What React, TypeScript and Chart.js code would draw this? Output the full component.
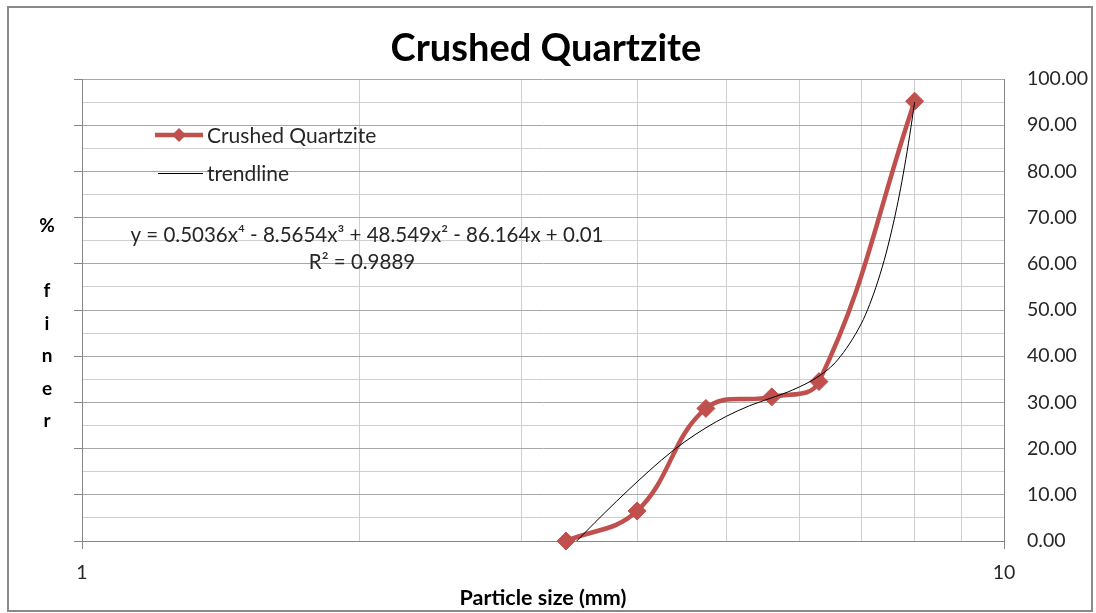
import React, { useEffect, useRef } from 'react';
import { Chart, registerables } from 'chart.js';

Chart.register(...registerables);

// ---- data ----
const chartTitle = 'Crushed Quartzite';
const xAxisTitle = 'Particle size (mm)';
const yAxisTitleLetters = ['%', '', 'f', 'i', 'n', 'e', 'r'];
const seriesName = 'Crushed Quartzite';
const trendName = 'trendline';
const equationText = 'y = 0.5036x⁴ - 8.5654x³ + 48.549x² - 86.164x + 0.01';
const rSquaredText = 'R² = 0.9889';

const particleSizes = [3.35, 4.0, 4.75, 5.6, 6.3, 8.0];
const percentFiner = [0, 6.5, 28.7, 31.2, 34.5, 95.2];

const trendSizes = [3.44, 3.6, 3.8, 4.0, 4.25, 4.5, 4.75, 5.0, 5.3, 5.6, 5.9, 6.3, 6.6, 7.0, 7.15, 7.3, 7.45, 7.6, 7.7, 7.8, 7.9, 8.0];
const trendFiner = [0, 4.0, 8.6, 12.8, 17.5, 21.4, 24.5, 27.0, 29.3, 31.0, 32.7, 35.7, 39.2, 47.0, 51.2, 56.3, 62.3, 69.5, 74.9, 81.0, 87.7, 95.0];

const xTickValues = [1, 2, 3, 4, 5, 6, 7, 8, 9, 10];
const xTickLabels = ['1', '', '', '', '', '', '', '', '', '10'];
const yMin = 0;
const yMax = 100;
const yMinorStep = 5;
const yMajorStep = 10;

const FONT = 'Lato, "Open Sans", sans-serif';
const TEXT = '#262626';
const AXIS = '#868686';
const GRID_MAJOR = '#a8a8a8';
const GRID_MINOR = '#cfcfcf';
const RED = '#C0504D';

const W = 1082;
const H = 602;

const overlayPlugin = {
  id: 'overlayText',
  afterDraw(chart: any) {
    const ctx = chart.ctx;
    ctx.save();
    // title
    ctx.fillStyle = '#000';
    ctx.font = `bold 38px ${FONT}`;
    ctx.textAlign = 'center';
    ctx.textBaseline = 'middle';
    ctx.fillText(chartTitle, 537, 41);

    // y axis title (stacked letters)
    ctx.font = `bold 19px ${FONT}`;
    ctx.textBaseline = 'alphabetic';
    yAxisTitleLetters.forEach((ch, i) => {
      if (ch) ctx.fillText(ch, 38, 224 + i * 32.5);
    });

    // x axis title
    ctx.textBaseline = 'middle';
    ctx.font = `bold 21.5px ${FONT}`;
    ctx.fillText(xAxisTitle, 534, 590);

    // legend
    ctx.font = `21px ${FONT}`;
    ctx.textAlign = 'left';
    ctx.fillStyle = TEXT;
    const ds0 = chart.data.datasets[0];
    const ds1 = chart.data.datasets[1];
    ctx.strokeStyle = ds0.borderColor;
    ctx.lineWidth = ds0.borderWidth;
    ctx.beginPath();
    ctx.moveTo(146, 127);
    ctx.lineTo(194, 127);
    ctx.stroke();
    ctx.fillStyle = ds0.pointBackgroundColor;
    ctx.beginPath();
    ctx.moveTo(170, 120);
    ctx.lineTo(177, 127);
    ctx.lineTo(170, 134);
    ctx.lineTo(163, 127);
    ctx.closePath();
    ctx.fill();
    ctx.fillStyle = TEXT;
    ctx.fillText(ds0.label, 198, 128);

    ctx.strokeStyle = ds1.borderColor;
    ctx.lineWidth = 1;
    ctx.beginPath();
    ctx.moveTo(149, 165.5);
    ctx.lineTo(194, 165.5);
    ctx.stroke();
    ctx.fillText(ds1.label, 198, 166);

    // trendline equation
    ctx.font = `20.5px ${FONT}`;
    ctx.textAlign = 'center';
    ctx.fillText(equationText, 358, 227);
    ctx.fillText(rSquaredText, 353, 254);
    ctx.restore();
  },
};

export default function App() {
  const canvasRef = useRef<HTMLCanvasElement | null>(null);

  useEffect(() => {
    if (!canvasRef.current) return;
    const chart = new Chart(canvasRef.current, {
      type: 'line',
      data: {
        datasets: [
          {
            label: seriesName,
            data: particleSizes.map((x, i) => ({ x, y: percentFiner[i] })),
            borderColor: RED,
            backgroundColor: RED,
            borderWidth: 4.5,
            tension: 0.4,
            pointStyle: 'rectRot',
            pointRadius: 9,
            pointBackgroundColor: RED,
            pointBorderColor: RED,
            pointBorderWidth: 1,
            yAxisID: 'y',
            order: 1,
            clip: false,
          },
          {
            label: trendName,
            data: trendSizes.map((x, i) => ({ x, y: trendFiner[i] })),
            borderColor: '#000000',
            borderWidth: 1,
            pointRadius: 0,
            tension: 0.4,
            cubicInterpolationMode: 'monotone',
            yAxisID: 'y',
            order: 0,
          },
        ],
      },
      options: {
        animation: false,
        responsive: false,
        layout: { padding: { top: 71, left: 65, right: 0, bottom: 0 } },
        plugins: {
          legend: { display: false },
          title: { display: false },
          tooltip: { enabled: false },
        },
        scales: {
          x: {
            type: 'logarithmic',
            position: 'bottom',
            min: 1,
            max: 10,
            afterBuildTicks: (scale: any) => {
              scale.ticks = xTickValues.map((v) => ({ value: v }));
            },
            afterFit: (scale: any) => {
              scale.height = 69;
            },
            ticks: {
              autoSkip: false,
              maxRotation: 0,
              padding: 12,
              color: TEXT,
              font: { family: FONT, size: 19.5 },
              callback: (_v: any, i: number) => xTickLabels[i],
            },
            grid: {
              color: (c: any) => (c.tick && (c.tick.value === 1 || c.tick.value === 10) ? AXIS : GRID_MINOR),
              tickColor: (c: any) => (c.tick && (c.tick.value === 1 || c.tick.value === 10) ? AXIS : 'rgba(0,0,0,0)'),
              tickLength: 8,
            },
            border: { display: true, color: AXIS, width: 1 },
          },
          y: {
            type: 'linear',
            position: 'left',
            min: yMin,
            max: yMax,
            afterFit: (scale: any) => {
              scale.width = 8;
            },
            ticks: {
              stepSize: yMinorStep,
              display: false,
            },
            grid: {
              color: (c: any) => (c.tick && c.tick.value % yMajorStep === 0 ? GRID_MAJOR : GRID_MINOR),
              tickColor: (c: any) => (c.tick && c.tick.value % yMajorStep === 0 ? AXIS : 'rgba(0,0,0,0)'),
              tickLength: 8,
            },
            border: { display: true, color: AXIS, width: 1 },
          },
          y2: {
            type: 'linear',
            position: 'right',
            min: yMin,
            max: yMax,
            afterFit: (scale: any) => {
              scale.width = 87;
            },
            ticks: {
              stepSize: yMajorStep,
              padding: 23,
              color: TEXT,
              font: { family: FONT, size: 19.5 },
              callback: (v: any) => Number(v).toFixed(2),
            },
            grid: { drawOnChartArea: false, drawTicks: false },
            border: { display: true, color: AXIS, width: 1 },
          },
        },
      },
      plugins: [overlayPlugin],
    } as any);
    return () => chart.destroy();
  }, []);

  return (
    <div
      style={{
        position: 'absolute',
        left: 7,
        top: 6,
        width: W,
        height: H,
        border: '2px solid #8a8a8a',
        background: '#ffffff',
      }}
    >
      <canvas ref={canvasRef} width={W} height={H} style={{ width: W, height: H, display: 'block' }} />
    </div>
  );
}
